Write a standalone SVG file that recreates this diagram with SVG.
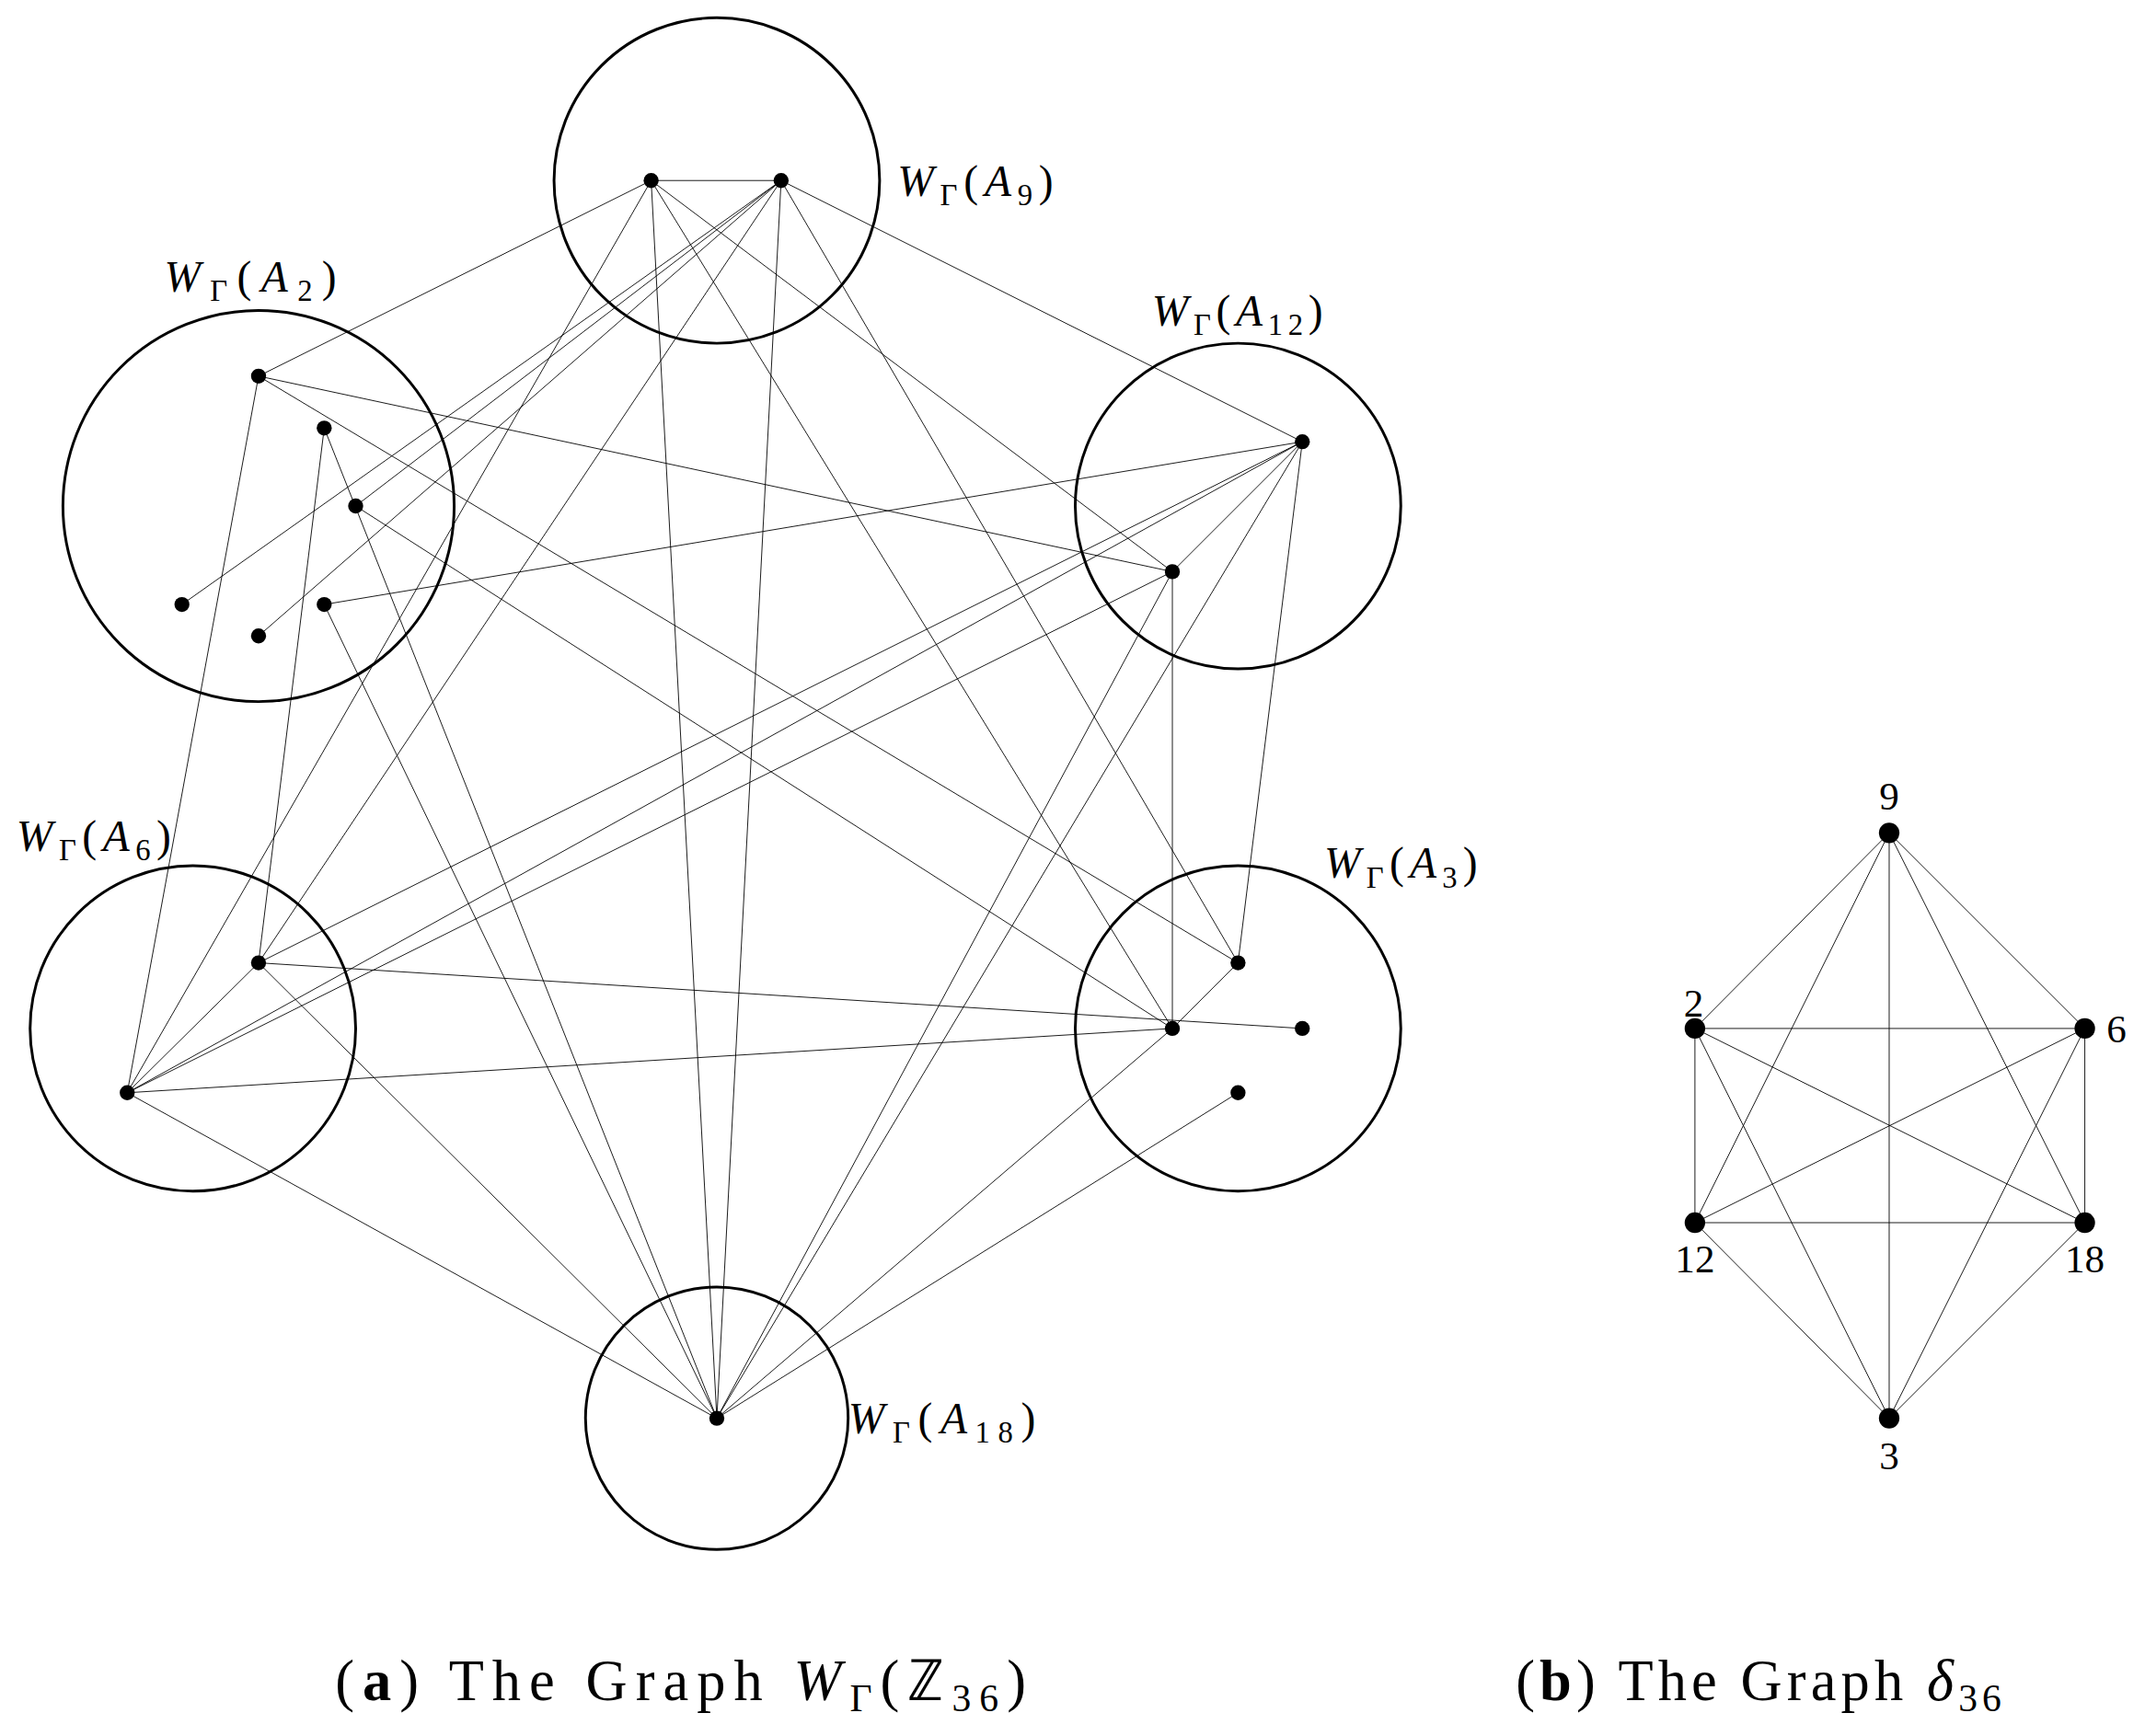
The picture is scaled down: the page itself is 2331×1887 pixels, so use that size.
<svg xmlns="http://www.w3.org/2000/svg" width="2331" height="1887" viewBox="0 0 2331 1887">
<style>
.c{fill:none;stroke:#000;stroke-width:2}
.e line{stroke:#000;stroke-width:0.6}
.d{fill:#000}
text{font-family:"Liberation Serif",serif;fill:#000}
.l{font-size:32px}
.i{font-style:italic}
.s{font-size:22px}
.cap{font-size:42px}
.n{font-size:29px}
</style>
<rect width="2331" height="1887" fill="#fff"/>
<g transform="scale(1.4866)">
<g id="edges" class="e">
<line x1="476" y1="132" x2="571" y2="132"/>
<line x1="476" y1="132" x2="189" y2="275"/>
<line x1="476" y1="132" x2="93" y2="799"/>
<line x1="476" y1="132" x2="524" y2="1037"/>
<line x1="476" y1="132" x2="857" y2="752"/>
<line x1="476" y1="132" x2="857" y2="418"/>
<line x1="571" y1="132" x2="260" y2="370"/>
<line x1="571" y1="132" x2="133" y2="442"/>
<line x1="571" y1="132" x2="189" y2="465"/>
<line x1="571" y1="132" x2="189" y2="704"/>
<line x1="571" y1="132" x2="524" y2="1037"/>
<line x1="571" y1="132" x2="905" y2="704"/>
<line x1="571" y1="132" x2="952" y2="323"/>
<line x1="189" y1="275" x2="857" y2="418"/>
<line x1="189" y1="275" x2="905" y2="704"/>
<line x1="189" y1="275" x2="93" y2="799"/>
<line x1="237" y1="313" x2="189" y2="704"/>
<line x1="237" y1="313" x2="524" y2="1037"/>
<line x1="260" y1="370" x2="857" y2="752"/>
<line x1="237" y1="442" x2="952" y2="323"/>
<line x1="237" y1="442" x2="524" y2="1037"/>
<line x1="952" y1="323" x2="857" y2="418"/>
<line x1="952" y1="323" x2="189" y2="704"/>
<line x1="952" y1="323" x2="93" y2="799"/>
<line x1="952" y1="323" x2="524" y2="1037"/>
<line x1="952" y1="323" x2="905" y2="704"/>
<line x1="857" y1="418" x2="93" y2="799"/>
<line x1="857" y1="418" x2="524" y2="1037"/>
<line x1="857" y1="418" x2="857" y2="752"/>
<line x1="189" y1="704" x2="93" y2="799"/>
<line x1="189" y1="704" x2="952" y2="752"/>
<line x1="189" y1="704" x2="524" y2="1037"/>
<line x1="93" y1="799" x2="857" y2="752"/>
<line x1="93" y1="799" x2="524" y2="1037"/>
<line x1="905" y1="704" x2="857" y2="752"/>
<line x1="857" y1="752" x2="524" y2="1037"/>
<line x1="905" y1="799" x2="524" y2="1037"/>
<line x1="1381" y1="609" x2="1239" y2="752"/>
<line x1="1381" y1="609" x2="1524" y2="752"/>
<line x1="1381" y1="609" x2="1239" y2="894"/>
<line x1="1381" y1="609" x2="1524" y2="894"/>
<line x1="1381" y1="609" x2="1381" y2="1037"/>
<line x1="1239" y1="752" x2="1524" y2="752"/>
<line x1="1239" y1="752" x2="1239" y2="894"/>
<line x1="1239" y1="752" x2="1524" y2="894"/>
<line x1="1239" y1="752" x2="1381" y2="1037"/>
<line x1="1524" y1="752" x2="1239" y2="894"/>
<line x1="1524" y1="752" x2="1524" y2="894"/>
<line x1="1524" y1="752" x2="1381" y2="1037"/>
<line x1="1239" y1="894" x2="1524" y2="894"/>
<line x1="1239" y1="894" x2="1381" y2="1037"/>
<line x1="1524" y1="894" x2="1381" y2="1037"/>
</g>
<g id="A9"><circle class="c" cx="524" cy="132" r="119"/>
<circle class="d" cx="476" cy="132" r="5.5"/><circle class="d" cx="571" cy="132" r="5.5"/>
<text class="l" x="656" y="143" textLength="114" lengthAdjust="spacing"><tspan class="i">W</tspan><tspan class="s" dy="7">Γ</tspan><tspan dy="-7">(</tspan><tspan class="i">A</tspan><tspan class="s" dy="7">9</tspan><tspan dy="-7">)</tspan></text></g>
<g id="A2"><circle class="c" cx="189" cy="370" r="143"/>
<circle class="d" cx="189" cy="275" r="5.5"/><circle class="d" cx="237" cy="313" r="5.5"/><circle class="d" cx="260" cy="370" r="5.5"/><circle class="d" cx="133" cy="442" r="5.5"/><circle class="d" cx="189" cy="465" r="5.5"/><circle class="d" cx="237" cy="442" r="5.5"/>
<text class="l" x="120" y="213" textLength="126" lengthAdjust="spacing"><tspan class="i">W</tspan><tspan class="s" dy="7">Γ</tspan><tspan dy="-7">(</tspan><tspan class="i">A</tspan><tspan class="s" dy="7">2</tspan><tspan dy="-7">)</tspan></text></g>
<g id="A12"><circle class="c" cx="905" cy="370" r="119"/>
<circle class="d" cx="952" cy="323" r="5.5"/><circle class="d" cx="857" cy="418" r="5.5"/>
<text class="l" x="842" y="238" textLength="125" lengthAdjust="spacing"><tspan class="i">W</tspan><tspan class="s" dy="7">Γ</tspan><tspan dy="-7">(</tspan><tspan class="i">A</tspan><tspan class="s" dy="7">12</tspan><tspan dy="-7">)</tspan></text></g>
<g id="A6"><circle class="c" cx="141" cy="752" r="119"/>
<circle class="d" cx="189" cy="704" r="5.5"/><circle class="d" cx="93" cy="799" r="5.5"/>
<text class="l" x="12" y="622" textLength="113" lengthAdjust="spacing"><tspan class="i">W</tspan><tspan class="s" dy="7">Γ</tspan><tspan dy="-7">(</tspan><tspan class="i">A</tspan><tspan class="s" dy="7">6</tspan><tspan dy="-7">)</tspan></text></g>
<g id="A3"><circle class="c" cx="905" cy="752" r="119"/>
<circle class="d" cx="905" cy="704" r="5.5"/><circle class="d" cx="857" cy="752" r="5.5"/><circle class="d" cx="952" cy="752" r="5.5"/><circle class="d" cx="905" cy="799" r="5.5"/>
<text class="l" x="968" y="642" textLength="112" lengthAdjust="spacing"><tspan class="i">W</tspan><tspan class="s" dy="7">Γ</tspan><tspan dy="-7">(</tspan><tspan class="i">A</tspan><tspan class="s" dy="7">3</tspan><tspan dy="-7">)</tspan></text></g>
<g id="A18"><circle class="c" cx="524" cy="1037" r="96"/>
<circle class="d" cx="524" cy="1037" r="5.5"/>
<text class="l" x="620" y="1048" textLength="137" lengthAdjust="spacing"><tspan class="i">W</tspan><tspan class="s" dy="7">Γ</tspan><tspan dy="-7">(</tspan><tspan class="i">A</tspan><tspan class="s" dy="7">18</tspan><tspan dy="-7">)</tspan></text></g>
<g id="d9"><circle class="d" cx="1381" cy="609" r="7.5"/><text class="n" x="1381" y="592" text-anchor="middle">9</text></g>
<g id="d2"><circle class="d" cx="1239" cy="752" r="7.5"/><text class="n" x="1238" y="743" text-anchor="middle">2</text></g>
<g id="d6"><circle class="d" cx="1524" cy="752" r="7.5"/><text class="n" x="1540" y="762">6</text></g>
<g id="d12"><circle class="d" cx="1239" cy="894" r="7.5"/><text class="n" x="1239" y="930" text-anchor="middle">12</text></g>
<g id="d18"><circle class="d" cx="1524" cy="894" r="7.5"/><text class="n" x="1524" y="930" text-anchor="middle">18</text></g>
<g id="d3"><circle class="d" cx="1381" cy="1037" r="7.5"/><text class="n" x="1381" y="1074" text-anchor="middle">3</text></g>
<text class="cap" x="245" y="1243" textLength="505" lengthAdjust="spacing">(<tspan font-weight="bold">a</tspan>)  The Graph <tspan class="i">W</tspan><tspan font-size="28" dy="8">Γ</tspan><tspan dy="-8">(ℤ</tspan><tspan font-size="28" dy="8">36</tspan><tspan dy="-8">)</tspan></text>
<text class="cap" x="1108" y="1243" textLength="355" lengthAdjust="spacing">(<tspan font-weight="bold">b</tspan>)  The Graph <tspan class="i">δ</tspan><tspan font-size="28" dy="8">36</tspan></text>
</g>
</svg>
